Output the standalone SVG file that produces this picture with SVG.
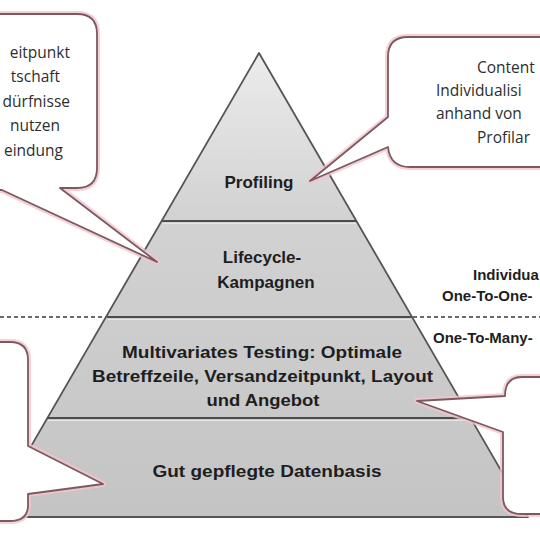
<svg xmlns="http://www.w3.org/2000/svg" width="540" height="540" viewBox="0 0 540 540">
<defs>
<linearGradient id="pg" x1="0" y1="53" x2="0" y2="517" gradientUnits="userSpaceOnUse">
<stop offset="0" stop-color="#ececec"/>
<stop offset="0.35" stop-color="#d2d2d2"/>
<stop offset="1" stop-color="#c4c4c4"/>
</linearGradient>
<style>
.sep{stroke:#4d4d4d;stroke-width:2.2;fill:none}
.sepl{stroke:#e6e6e6;stroke-width:1.2;fill:none}
.lbl{font-family:"Liberation Sans",Arial,sans-serif;font-weight:bold;font-size:17px;fill:#1e1e1e;text-anchor:middle}
.side{font-family:"Liberation Sans",Arial,sans-serif;font-weight:bold;font-size:15px;fill:#1e1e1e}
.ct{font-family:"Open Sans","Liberation Sans",sans-serif;font-size:15.5px;fill:#2e2e2e}
.glow{fill:none;stroke:#f4c4cc;stroke-width:6;stroke-linejoin:round;opacity:0.8}
.box{fill:#ffffff;stroke:#7a5a60;stroke-width:1.8;stroke-linejoin:round}
</style>
</defs>
<rect width="540" height="540" fill="#ffffff"/>

<g id="dashline">
<line x1="0" y1="317" x2="540" y2="317" stroke="#3a3a3a" stroke-width="1.6" stroke-dasharray="4 3"/>
</g>

<g id="pyramid">
<polygon points="259,53 528,517 -10,517" fill="url(#pg)" stroke="#555555" stroke-width="1.8" stroke-linejoin="round"/>
<g id="layer-profiling">
<text class="lbl" x="259" y="188">Profiling</text>
</g>
<g id="layer-lifecycle">
<line class="sep" x1="162" y1="221" x2="357" y2="221"/>
<line class="sepl" x1="163" y1="223.5" x2="356" y2="223.5"/>
<text class="lbl" x="262" y="263">Lifecycle-</text>
<text class="lbl" x="266" y="288">Kampagnen</text>
</g>
<g id="layer-testing">
<line class="sep" x1="107" y1="317" x2="412" y2="317"/>
<line class="sepl" x1="108" y1="319.5" x2="411" y2="319.5"/>
<text class="lbl" x="262" y="358" textLength="280" lengthAdjust="spacingAndGlyphs">Multivariates Testing: Optimale</text>
<text class="lbl" x="262.5" y="382" textLength="341" lengthAdjust="spacingAndGlyphs">Betreffzeile, Versandzeitpunkt, Layout</text>
<text class="lbl" x="263" y="406" textLength="113" lengthAdjust="spacingAndGlyphs">und Angebot</text>
</g>
<g id="layer-datenbasis">
<line class="sep" x1="47" y1="418" x2="471" y2="418"/>
<line class="sepl" x1="48" y1="420.5" x2="470" y2="420.5"/>
<text class="lbl" x="267" y="477" textLength="229" lengthAdjust="spacingAndGlyphs">Gut gepflegte Datenbasis</text>
</g>
</g>

<g id="side-labels">
<text class="side" x="473" y="280">Individua</text>
<text class="side" x="442" y="301">One-To-One-</text>
<text class="side" x="433" y="343">One-To-Many-</text>
</g>

<g id="callout-top-left">
<path class="glow" d="M -20,14 H 77 Q 97,14 97,34 V 168 Q 97,188 77,188 H 60 L 157,262 L 2,190 H -20 Z"/>
<path class="box" d="M -20,14 H 77 Q 97,14 97,34 V 168 Q 97,188 77,188 H 60 L 157,262 L 2,190 H -20 Z"/>
<text class="ct" x="70" y="58" text-anchor="end">eitpunkt</text>
<text class="ct" x="60" y="82" text-anchor="end">tschaft</text>
<text class="ct" x="70" y="107" text-anchor="end">dürfnisse</text>
<text class="ct" x="60" y="131" text-anchor="end">nutzen</text>
<text class="ct" x="63" y="156" text-anchor="end">eindung</text>
</g>

<g id="callout-top-right">
<path class="glow" d="M 560,37 H 408 Q 388,37 388,57 V 117 L 310,181 L 388,147 Q 390,167 410,167 H 560 Z"/>
<path class="box" d="M 560,37 H 408 Q 388,37 388,57 V 117 L 310,181 L 388,147 Q 390,167 410,167 H 560 Z"/>
<text class="ct" x="477" y="73">Content</text>
<text class="ct" x="436" y="96">Individualisi</text>
<text class="ct" x="436" y="119">anhand von</text>
<text class="ct" x="477" y="143">Profilar</text>
</g>

<g id="callout-bottom-left">
<path class="glow" d="M -20,342 H 10 Q 28,342 28,360 V 446 L 103,484 L 28,494 V 505 Q 28,521 10,521 H -20 Z"/>
<path class="box" d="M -20,342 H 10 Q 28,342 28,360 V 446 L 103,484 L 28,494 V 505 Q 28,521 10,521 H -20 Z"/>
</g>

<g id="callout-bottom-right">
<path class="glow" d="M 560,377 H 522 Q 505,377 505,396 L 417,401 L 503,432 V 497 Q 503,514 522,514 H 560 Z"/>
<path class="box" d="M 560,377 H 522 Q 505,377 505,396 L 417,401 L 503,432 V 497 Q 503,514 522,514 H 560 Z"/>
</g>
</svg>
